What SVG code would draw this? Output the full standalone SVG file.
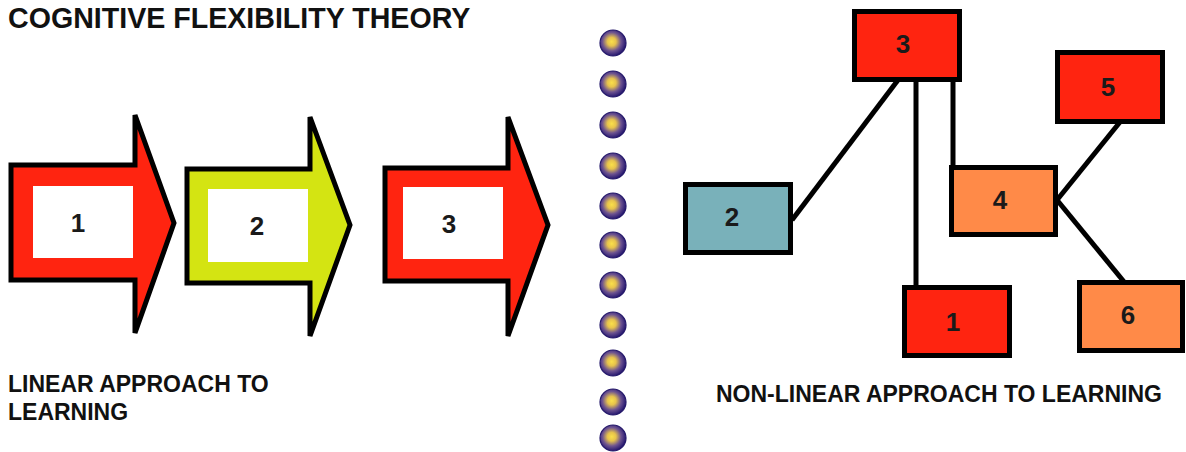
<svg xmlns="http://www.w3.org/2000/svg" width="1186" height="452" viewBox="0 0 1186 452">
  <defs>
    <radialGradient id="bead" cx="0.45" cy="0.45" r="0.55">
      <stop offset="0" stop-color="#fae04a"/>
      <stop offset="0.3" stop-color="#e6c24c"/>
      <stop offset="0.65" stop-color="#6e5490"/>
      <stop offset="1" stop-color="#261870"/>
    </radialGradient>
    <style>
      .title { font-family: "Liberation Sans", Arial, sans-serif; font-weight: bold; fill: #111; }
      .num { font-family: "Liberation Sans", Arial, sans-serif; font-weight: bold; font-size: 26px; fill: #1a1a1a; text-anchor: middle; dominant-baseline: central; }
      .arrow { stroke: #000; stroke-width: 5; stroke-linejoin: miter; }
      .slot { fill: #fff; }
      .box { stroke: #000; stroke-width: 5; }
      .red { fill: #ff2410; }
      .lime { fill: #d4e412; }
      .teal { fill: #79b1ba; }
      .orange { fill: #ff8a48; }
      .link { stroke: #000; stroke-width: 5; fill: none; }
      .dot { fill: url(#bead); stroke: #24186a; stroke-width: 1.2; }
    </style>
  </defs>

  <rect width="1186" height="452" fill="#fff"/>

  <!-- headings -->
  <text class="title" x="8" y="28" font-size="28.6">COGNITIVE FLEXIBILITY THEORY</text>
  <text class="title" font-size="23">
    <tspan x="8" y="392">LINEAR APPROACH TO</tspan>
    <tspan x="8" y="420">LEARNING</tspan>
  </text>
  <text class="title" x="716" y="402" font-size="23">NON-LINEAR APPROACH TO LEARNING</text>

  <!-- linear sequence -->
  <g id="step1">
    <polygon class="arrow red" points="11,165 135,165 135,115 174,223 135,333 135,280 11,280"/>
    <rect class="slot" x="33" y="186" width="100" height="72"/>
    <text class="num" x="78" y="223">1</text>
  </g>
  <g id="step2">
    <polygon class="arrow lime" points="187,169 310,169 310,117 350,225 310,336 310,283 187,283"/>
    <rect class="slot" x="208" y="189" width="100" height="73"/>
    <text class="num" x="257" y="226">2</text>
  </g>
  <g id="step3">
    <polygon class="arrow red" points="385,168 508,168 508,117 548,225 508,336 508,281 385,281"/>
    <rect class="slot" x="403" y="187" width="100" height="72"/>
    <text class="num" x="449" y="224">3</text>
  </g>

  <!-- divider beads -->
  <g id="divider">
    <circle class="dot" cx="613" cy="43" r="13"/>
    <circle class="dot" cx="613" cy="84" r="13"/>
    <circle class="dot" cx="613" cy="125" r="13"/>
    <circle class="dot" cx="613" cy="166" r="13"/>
    <circle class="dot" cx="613" cy="206" r="13"/>
    <circle class="dot" cx="613" cy="245" r="13"/>
    <circle class="dot" cx="613" cy="285" r="13"/>
    <circle class="dot" cx="613" cy="325" r="13"/>
    <circle class="dot" cx="613" cy="363" r="13"/>
    <circle class="dot" cx="613" cy="402" r="13"/>
    <circle class="dot" cx="613" cy="438" r="13"/>
  </g>

  <!-- network links -->
  <g id="connectors">
    <line class="link" x1="898" y1="80" x2="792" y2="220"/>
    <line class="link" x1="916" y1="80" x2="916" y2="288"/>
    <line class="link" x1="953" y1="80" x2="953" y2="168"/>
    <line class="link" x1="1120" y1="122" x2="1057" y2="200"/>
    <line class="link" x1="1057" y1="200" x2="1125" y2="283"/>
  </g>

  <!-- network nodes -->
  <g id="node3">
    <rect class="box red" x="854.5" y="11.5" width="105" height="68"/>
    <text class="num" x="903" y="44">3</text>
  </g>
  <g id="node5">
    <rect class="box red" x="1057.5" y="52.5" width="105" height="69"/>
    <text class="num" x="1108" y="87">5</text>
  </g>
  <g id="node4">
    <rect class="box orange" x="951.5" y="167.5" width="104" height="67"/>
    <text class="num" x="1000" y="200">4</text>
  </g>
  <g id="node2">
    <rect class="box teal" x="685.5" y="184.5" width="105" height="68"/>
    <text class="num" x="732" y="217">2</text>
  </g>
  <g id="node1">
    <rect class="box red" x="904.5" y="287.5" width="105" height="68"/>
    <text class="num" x="953" y="322">1</text>
  </g>
  <g id="node6">
    <rect class="box orange" x="1079.5" y="282.5" width="103" height="68"/>
    <text class="num" x="1128" y="315">6</text>
  </g>
</svg>
